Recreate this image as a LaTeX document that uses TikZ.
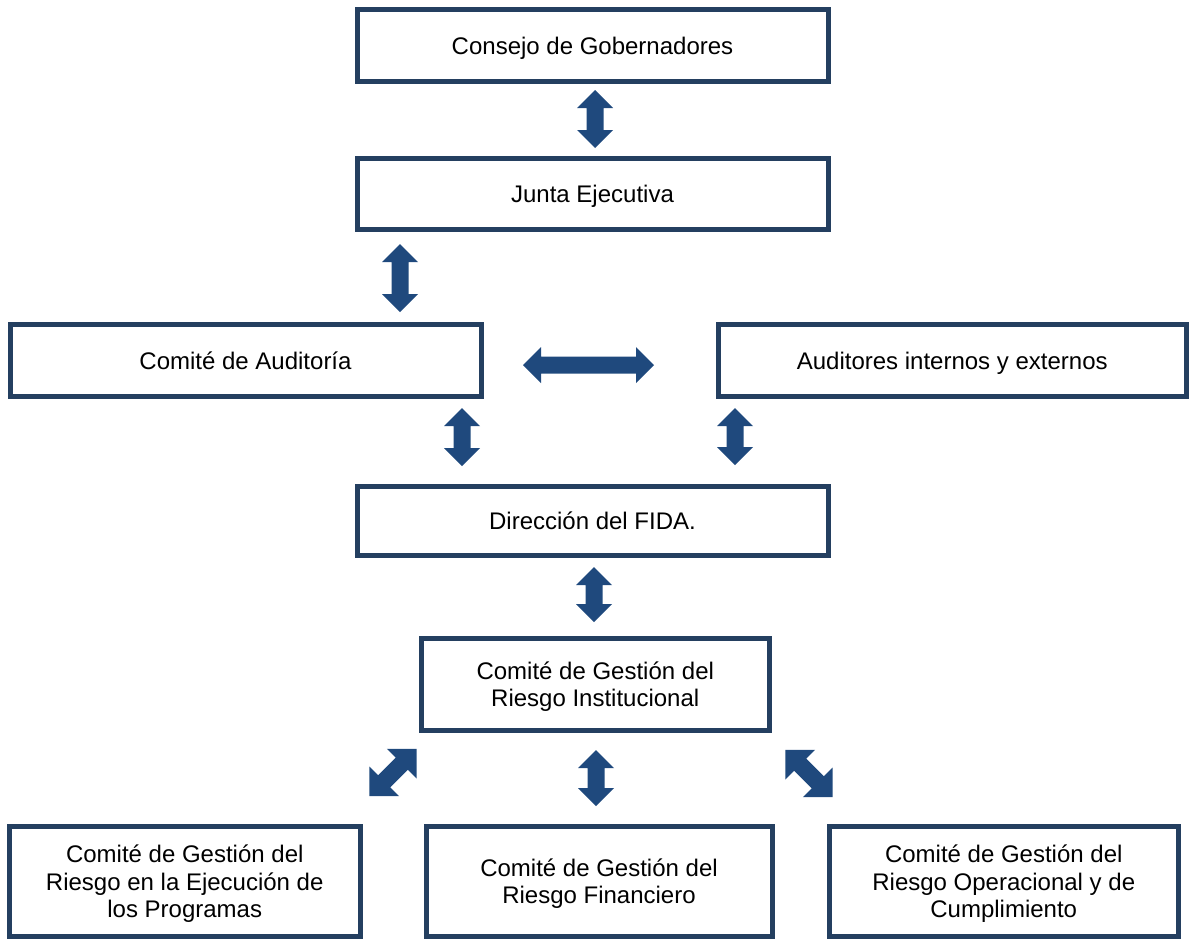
\documentclass[tikz,border=0pt]{standalone}
\usepackage{fontspec}
\setmainfont{Liberation Sans}
\definecolor{boxline}{HTML}{243F60}
\definecolor{arrowblue}{HTML}{1F497D}
\tikzset{
  box/.style={draw=boxline, line width=5pt, fill=white, inner sep=0pt, align=center,
    font=\fontsize{24}{27.5}\selectfont, text=black, text depth=0pt},
  blockfill/.style={fill=arrowblue}
}
% [#1 head] #2 x, #3 y, #4 angle, #5 half length
\newcommand\blockarrow[5][18]{%
  \fill[blockfill, shift={(#2,#3)}, rotate=#4]
    (-#5,0) -- (-#5+#1,#1) -- (-#5+#1,8.5) -- (#5-#1,8.5) -- (#5-#1,#1) -- (#5,0)
    -- (#5-#1,-#1) -- (#5-#1,-8.5) -- (-#5+#1,-8.5) -- (-#5+#1,-#1) -- cycle;}
\begin{document}
\begin{tikzpicture}[x=1pt,y=-1pt]
\useasboundingbox (0,0) rectangle (1189,938);
\node[box, minimum width=471pt, minimum height=72pt] (consejo) at (592.5,45.5) {Consejo de Gobernadores};
\node[box, minimum width=471pt, minimum height=71pt] (junta) at (592.5,193.5) {Junta Ejecutiva};
\node[box, minimum width=471pt, minimum height=72pt] (auditoria) at (245.5,360.5) {Comité de Auditoría};
\node[box, minimum width=468.5pt, minimum height=72pt] (auditores) at (952.25,360.5) {Auditores internos y externos};
\node[box, minimum width=471pt, minimum height=69pt] (direccion) at (592.5,520.5) {Dirección del FIDA.};
\node[box, minimum width=347.5pt, minimum height=92pt] (ri) at (595.25,684) {Comité de Gestión del\\Riesgo Institucional};
\node[box, minimum width=350.5pt, minimum height=109.5pt] (bl) at (184.75,881.25) {Comité de Gestión del\\Riesgo en la Ejecución de\\los Programas};
\node[box, minimum width=346pt, minimum height=109.5pt] (bm) at (599,881.25) {Comité de Gestión del\\Riesgo Financiero};
\node[box, minimum width=349.5pt, minimum height=109.5pt] (br) at (1003.75,881.25) {Comité de Gestión del\\Riesgo Operacional y de\\Cumplimiento};
\blockarrow{595}{119}{90}{29}
\blockarrow{400}{278}{90}{34}
\blockarrow{588.5}{365}{0}{65.5}
\blockarrow{462}{437}{90}{29}
\blockarrow{735}{436.5}{90}{28.5}
\blockarrow{594}{594.5}{90}{27.5}
\blockarrow{596}{778}{90}{28}
\blockarrow[21]{393}{772.5}{45}{33.5}
\blockarrow[21]{809}{773.5}{-45}{33.5}
\end{tikzpicture}
\end{document}
